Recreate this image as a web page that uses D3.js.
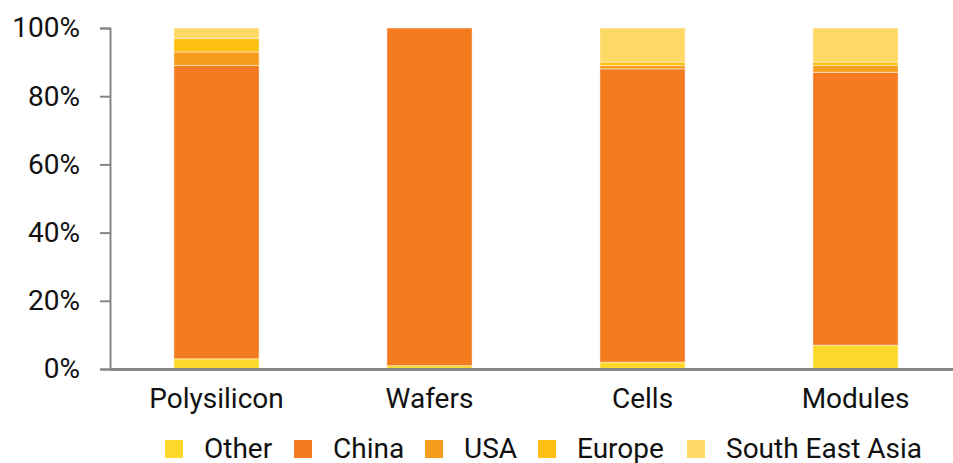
<!DOCTYPE html>
<html>
<head>
<meta charset="utf-8">
<script src="https://cdn.jsdelivr.net/npm/d3@7/dist/d3.min.js"></script>
<style>
  html, body { margin: 0; padding: 0; background: #fff; }
  svg { display: block; }
  text { font-family: Roboto, "Open Sans", sans-serif; fill: #111; }
</style>
</head>
<body>
<svg id="chart" width="953" height="463"></svg>
<script>
// Share of global solar manufacturing capacity by stage and region (%)
const categories = ["Polysilicon", "Wafers", "Cells", "Modules"];
const regions = ["Other", "China", "USA", "Europe", "South East Asia"];
const other         = [3, 1, 2, 7];
const china         = [86, 99, 86, 80];
const usa           = [4, 0, 1, 2];
const europe        = [4, 0, 1, 1];
const southEastAsia = [3, 0, 10, 10];
const yTicks = [0, 20, 40, 60, 80, 100];
const colors = ["#FDD92B", "#F47B20", "#F79D1E", "#FDBF10", "#FED966"];

const seriesValues = [other, china, usa, europe, southEastAsia];
const rows = categories.map((c, i) => {
  const r = { category: c };
  regions.forEach((s, k) => { r[s] = seriesValues[k][i]; });
  return r;
});

const svg = d3.select("#chart");
const plot = { left: 110, right: 962, top: 28, bottom: 369 };
const fontSize = "28px";

const x = d3.scaleBand().domain(categories).range([plot.left, plot.right])
  .paddingInner(0.6).paddingOuter(0.3);
const y = d3.scaleLinear().domain([0, 100]).range([plot.bottom, plot.top]);
const color = d3.scaleOrdinal().domain(regions).range(colors);

const stacked = d3.stack().keys(regions)(rows);

// Stacked bars
svg.append("g").selectAll("g").data(stacked).join("g")
  .attr("fill", d => color(d.key))
  .selectAll("rect").data(d => d).join("rect")
  .attr("x", d => x(d.data.category))
  .attr("width", x.bandwidth())
  .attr("y", d => y(d[1]))
  .attr("height", d => Math.max(0, y(d[0]) - y(d[1])))
  .attr("stroke", "rgba(255,255,255,0.45)")
  .attr("stroke-width", 1);

// Y axis
const yAxis = svg.append("g").attr("transform", `translate(${plot.left},0)`)
  .call(d3.axisLeft(y).tickValues(yTicks).tickFormat(d => d + "%").tickSize(10).tickPadding(20));
yAxis.select(".domain").attr("stroke", "#898585").attr("stroke-width", 2);
yAxis.selectAll(".tick line").attr("stroke", "#898585").attr("stroke-width", 2);
yAxis.selectAll(".tick text").style("font-size", fontSize).attr("fill", "#111")
  .style("font-family", "Roboto, sans-serif");

// X axis
const xAxis = svg.append("g").attr("transform", `translate(0,${plot.bottom})`)
  .call(d3.axisBottom(x).tickSize(0));
xAxis.select(".domain").attr("stroke", "#898585").attr("stroke-width", 3);
xAxis.selectAll(".tick text").style("font-size", fontSize).attr("fill", "#111")
  .attr("y", 39).attr("dy", 0);

// Legend
const legendX = [165, 294, 425, 538, 687];
const legend = svg.append("g").selectAll("g").data(regions).join("g")
  .attr("transform", (d, i) => `translate(${legendX[i]},440)`);
legend.append("rect").attr("width", 18).attr("height", 18).attr("fill", d => color(d));
legend.append("text").attr("x", 39).attr("y", 18).style("font-size", fontSize).text(d => d);
</script>
</body>
</html>
